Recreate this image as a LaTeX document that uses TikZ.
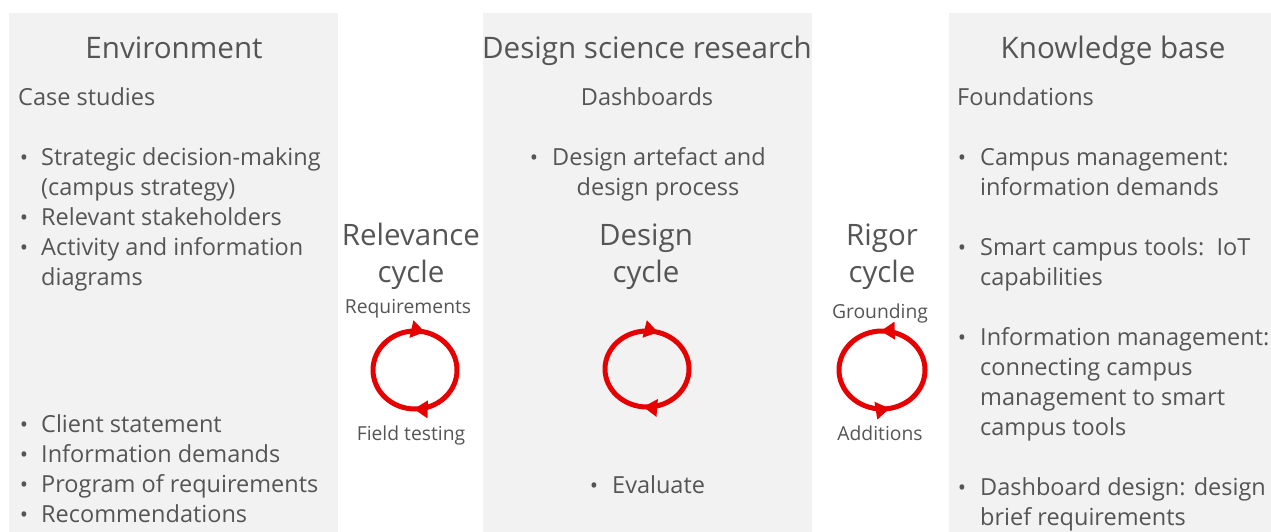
\documentclass[tikz,border=0pt]{standalone}
\usepackage{fontspec}
\setmainfont{Open Sans}
\usetikzlibrary{decorations.markings,arrows.meta}
\definecolor{panelgray}{HTML}{F2F2F2}
\definecolor{textgray}{HTML}{555555}
\definecolor{cyclered}{HTML}{E60000}
\tikzset{
  panel/.style={fill=panelgray, draw=none},
  ttl/.style={font=\fontsize{29.6}{34}\selectfont, text=textgray, inner sep=0pt, anchor=base},
  cyc/.style={font=\fontsize{29.5}{34}\selectfont, text=textgray, inner sep=0pt, anchor=base},
  body/.style={font=\fontsize{23.5}{30}\selectfont, text=textgray, inner sep=0pt, anchor=base west},
  bodyc/.style={font=\fontsize{23.5}{30}\selectfont, text=textgray, inner sep=0pt, anchor=base},
  small/.style={font=\fontsize{19.3}{22}\selectfont, text=textgray, inner sep=0pt, anchor=base},
  bul/.style={font=\fontsize{22}{24}\selectfont, text=textgray, inner sep=0pt, anchor=base},
  ring/.style={draw=cyclered, line width=5pt},
  tipA/.style={arrows={-Triangle[length=15pt,width=17pt]}},
  cw/.style 2 args={ring, postaction={decorate}, decoration={markings,
      mark=at position #1 with {\arrow{Triangle[length=14pt,width=17pt]}},
      mark=at position #2 with {\arrow{Triangle[length=14pt,width=17pt]}}}},
  ccw/.style 2 args={ring, postaction={decorate}, decoration={markings,
      mark=at position #1 with {\arrowreversed{Triangle[length=14pt,width=17pt]}},
      mark=at position #2 with {\arrowreversed{Triangle[length=14pt,width=17pt]}}}},
}
\begin{document}
\begin{tikzpicture}[x=1pt,y=-1pt]
\useasboundingbox (0,0) rectangle (1271,532);
% panels
\fill[panel] (9,13) rectangle (338,532);
\fill[panel] (483,13) rectangle (812,532);
\fill[panel] (949,13) rectangle (1271,532);

% Environment
\node[ttl] (envT) at (174,59) {Environment};
\node[body] (envS) at (18,106) {Case studies};
\node[bul] (eb1) at (24,165) {•};
\node[body] (e1a) at (41,165) {Strategic decision-making};
\node[body] (e1b) at (41,195) {(campus strategy)};
\node[bul] (eb2) at (24,225) {•};
\node[body] (e2) at (41,225) {Relevant stakeholders};
\node[bul] (eb3) at (24,255) {•};
\node[body] (e3a) at (41,255) {Activity and information};
\node[body] (e3b) at (41,285) {diagrams};
\node[bul] (eb4) at (24,432) {•};
\node[body] (e4) at (41,432) {Client statement};
\node[bul] (eb5) at (24,462) {•};
\node[body] (e5) at (41,462) {Information demands};
\node[bul] (eb6) at (24,492) {•};
\node[body] (e6) at (41,492) {Program of requirements};
\node[bul] (eb7) at (24,522) {•};
\node[body] (e7) at (41,522) {Recommendations};

% Design science research
\node[ttl] (dsrT) at (647,59) {Design science research};
\node[bodyc] (dsrS) at (647,106) {Dashboards};
\node[bul] (db1) at (534,165) {•};
\node[bodyc] (d1a) at (659,165) {Design artefact and};
\node[bodyc] (d1b) at (658,195) {design process};
\node[cyc] (dcA) at (646,245) {Design};
\node[cyc] (dcB) at (646,282) {cycle};
\node[bul] (db2) at (594,493) {•};
\node[body] (d2) at (612,493) {Evaluate};

% Relevance cycle
\node[cyc] (rcA) at (411,245) {Relevance};
\node[cyc] (rcB) at (411,282) {cycle};
\node[small] (req) at (408,313) {Requirements};
\node[small] (ft) at (411,440) {Field testing};

% Rigor cycle
\node[cyc] (gcA) at (882,245) {Rigor};
\node[cyc] (gcB) at (882,282) {cycle};
\node[small] (gr) at (880,318) {Grounding};
\node[small] (ad) at (880,440) {Additions};

% Knowledge base
\node[ttl] (kbT) at (1113,59) {Knowledge base};
\node[body] (kbS) at (957,106) {Foundations};
\node[bul] (kb1) at (962,165) {•};
\node[body] (k1a) at (980,165) {Campus management:};
\node[body] (k1b) at (980,195) {information demands};
\node[bul] (kb2) at (962,255) {•};
\node[body] (k2a) at (980,255) {Smart campus tools:\ \ IoT};
\node[body] (k2b) at (980,285) {capabilities};
\node[bul] (kb3) at (962,345) {•};
\node[body] (k3a) at (980,345) {Information management:};
\node[body] (k3b) at (980,375) {connecting campus};
\node[body] (k3c) at (980,405) {management to smart};
\node[body] (k3d) at (980,435) {campus tools};
\node[bul] (kb4) at (962,495) {•};
\node[body] (k4a) at (980,495) {Dashboard design: design};
\node[body] (k4b) at (980,525) {brief requirements};

% cycles
\coordinate (relC) at (415,370);
\coordinate (desC) at (647,369);
\coordinate (rigC) at (882,370);
\draw[cw={0.255}{0.79}] (relC) ++(42,0) arc[start angle=0, end angle=360, x radius=42, y radius=39];
\draw[cw={0.265}{0.795}] (desC) ++(42,0) arc[start angle=0, end angle=360, x radius=42, y radius=38];
\draw[ccw={0.22}{0.745}] (rigC) ++(43,0) arc[start angle=0, end angle=360, x radius=43, y radius=39];
\end{tikzpicture}
\end{document}
